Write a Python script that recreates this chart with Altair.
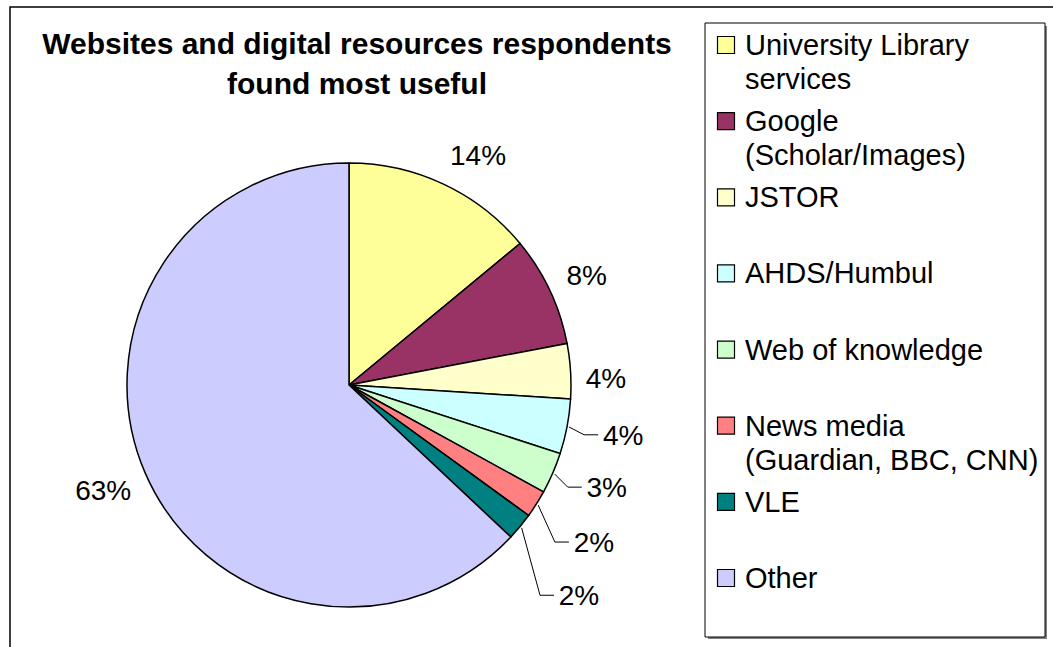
import altair as alt
import numpy as np
import pandas as pd

# ---- data ----
categories = ["University Library services", "Google (Scholar/Images)", "JSTOR",
              "AHDS/Humbul", "Web of knowledge", "News media (Guardian, BBC, CNN)",
              "VLE", "Other"]
legend_labels = ["University Library\nservices", "Google\n(Scholar/Images)", "JSTOR",
                 "AHDS/Humbul", "Web of knowledge", "News media\n(Guardian, BBC, CNN)",
                 "VLE", "Other"]
values = [14, 8, 4, 4, 3, 2, 2, 63]
pct_labels = ["14%", "8%", "4%", "4%", "3%", "2%", "2%", "63%"]
colors = ["#FFFF99", "#993366", "#FFFFCC", "#CCFFFF", "#CCFFCC", "#FF8080", "#008080", "#CCCCFF"]
title_text = "Websites and digital resources respondents\nfound most useful"

# ---- layout ----
CX, CY, R = 349, 385, 222
label_radius = [262, 261, 257, 279, 278, 292, 313, 268]
label_angle_offset_deg = [4.3, 0.8, 2.5, -0.1, -1.4, 0.6, 3.1, -0.1]
has_leader = [False, False, False, True, True, True, True, False]
FONT = "Liberation Sans"

idx = list(range(len(values)))
pie_df = pd.DataFrame({"name": categories, "value": values, "idx": idx})

vals = np.array(values, dtype=float)
cum = np.cumsum(vals)
mid = (cum - vals / 2) / vals.sum() * 2 * np.pi
lab_ang = mid + np.radians(label_angle_offset_deg)
lab_df = pd.DataFrame({"t": pct_labels, "ang": lab_ang, "r": label_radius})

# leader lines computed from slice angles and label positions
rows = []
for i in idx:
    if not has_leader[i]:
        continue
    sx = CX + (R + 2) * np.sin(mid[i])
    sy = CY - (R + 2) * np.cos(mid[i])
    lx = CX + label_radius[i] * np.sin(lab_ang[i])
    ly = CY - label_radius[i] * np.cos(lab_ang[i]) - 2
    ex = lx - 25
    bx = ex - 14
    rows += [{"k": i, "p": 0, "x": sx, "y": sy},
             {"k": i, "p": 1, "x": bx, "y": ly},
             {"k": i, "p": 2, "x": ex, "y": ly}]
lead_df = pd.DataFrame(rows)

leg_df = pd.DataFrame({"name": categories, "lab": legend_labels, "idx": idx})
one = pd.DataFrame({"a": [0]})

color_scale = alt.Scale(domain=categories, range=colors)

frame = alt.Chart(one).mark_rect(fill="white", stroke="black", strokeWidth=1.5).encode(
    x=alt.value(10), x2=alt.value(1060), y=alt.value(7), y2=alt.value(660))

title = alt.Chart(pd.DataFrame({"t": [title_text]})).mark_text(
    font=FONT, fontSize=30, fontWeight="bold", lineBreak="\n", lineHeight=40,
    align="center", baseline="alphabetic", color="black").encode(
    x=alt.value(357), y=alt.value(54), text="t:N")

pie = alt.Chart(pie_df).mark_arc(stroke="black", strokeWidth=1.5, outerRadius=R).encode(
    theta=alt.Theta("value:Q", stack=True),
    color=alt.Color("name:N", scale=color_scale, legend=None),
    order=alt.Order("idx:Q"),
    x=alt.value(CX), y=alt.value(CY))

labels = alt.Chart(lab_df).mark_text(font=FONT, fontSize=28, color="black",
                                     align="center", baseline="middle").encode(
    theta=alt.Theta("ang:Q", scale=None),
    radius=alt.Radius("r:Q", scale=None),
    x=alt.value(CX), y=alt.value(CY), text="t:N")

leaders = alt.Chart(lead_df).mark_line(color="black", strokeWidth=1).encode(
    x=alt.X("x:Q", scale=None, axis=None),
    y=alt.Y("y:Q", scale=None, axis=None),
    detail="k:N", order="p:Q")

shadow = alt.Chart(one).mark_rect(fill="#808080").encode(
    x=alt.value(708), x2=alt.value(1047), y=alt.value(26), y2=alt.value(639))
box = alt.Chart(one).mark_rect(fill="white", stroke="black", strokeWidth=1).encode(
    x=alt.value(705), x2=alt.value(1045), y=alt.value(23), y2=alt.value(637))

leg_y = alt.Scale(domain=[0, 7], range=[45, 578])
leg_sq = alt.Chart(leg_df).mark_square(size=289, stroke="black", strokeWidth=1.2, opacity=1).encode(
    x=alt.value(726),
    y=alt.Y("idx:Q", scale=leg_y, axis=None),
    color=alt.Color("name:N", scale=color_scale, legend=None))
leg_txt = alt.Chart(leg_df).mark_text(font=FONT, fontSize=29, lineBreak="\n", lineHeight=34,
                                      align="left", baseline="alphabetic", dy=10,
                                      color="black").encode(
    x=alt.value(745),
    y=alt.Y("idx:Q", scale=leg_y, axis=None),
    text="lab:N")

chart = alt.layer(frame, title, pie, labels, leaders, shadow, box, leg_sq, leg_txt).properties(
    width=1053, height=647, autosize=alt.AutoSizeParams(type="none"), padding=0
).configure_view(stroke=None).resolve_scale(y="independent", x="independent")

chart.save("out.html", embed_options={"renderer": "svg", "actions": False})
